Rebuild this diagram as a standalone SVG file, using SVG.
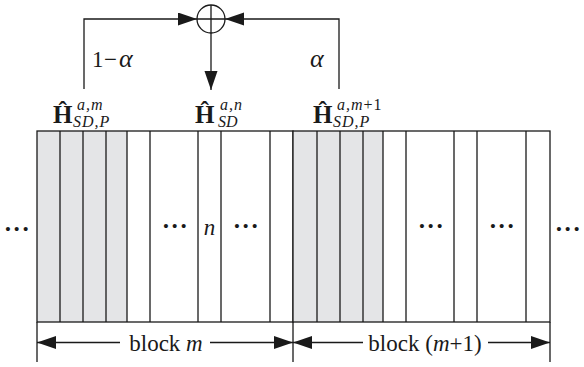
<svg xmlns="http://www.w3.org/2000/svg" width="584" height="367" viewBox="0 0 584 367">
<style>
.ln{stroke:#1a1a1a;stroke-width:1.3;fill:none}
.gr{fill:#e4e5e7;stroke:none}
.t{font-family:"Liberation Serif","Times New Roman",serif;fill:#1a1a1a}
.it{font-style:italic}
.H{font-weight:bold;font-size:25px}
.s{font-style:italic;font-size:16px}
.big{font-size:23px}
.dots{font-family:"Liberation Serif","Times New Roman",serif;fill:#1a1a1a;font-size:25px;font-weight:bold;letter-spacing:0.5px}
</style>
<defs>
<marker id="ah" markerUnits="userSpaceOnUse" markerWidth="20" markerHeight="14" refX="19" refY="6.5" orient="auto-start-reverse">
<path d="M0,0 L19,6.5 L0,13 Z" fill="#1a1a1a"/>
</marker>
</defs>
<rect width="584" height="367" fill="#fff"/>

<g id="connectors">
<path class="ln" d="M84 89 V19 H197" marker-end="url(#ah)"/>
<path class="ln" d="M339 89 V19 H225" marker-end="url(#ah)"/>
<path class="ln" d="M211 33 V90" marker-end="url(#ah)"/>
<path class="ln" d="M37 342.5 H120" marker-start="url(#ah)"/>
<path class="ln" d="M210 342.5 H293" marker-end="url(#ah)"/>
<path class="ln" d="M293 342.5 H363" marker-start="url(#ah)"/>
<path class="ln" d="M488 342.5 H550" marker-end="url(#ah)"/>
</g>

<g id="sum">
<circle class="ln" cx="211" cy="19" r="14"/>
<path class="ln" d="M197 19 H225 M211 5 V33"/>
</g>

<g id="weights">
<text class="t big" x="92" y="67">1</text>
<text class="t big" x="104" y="67">−</text>
<text class="t it" x="119" y="67" font-size="26">α</text>
<text class="t it" x="310" y="67" font-size="26">α</text>
</g>

<g id="label-m">
<text class="t H" x="53" y="122.5">Ĥ</text>
<text class="t s" x="77" y="110" letter-spacing="1">a,m</text>
<text class="t s" x="73" y="126.5" letter-spacing="1">SD,P</text>
</g>
<g id="label-n">
<text class="t H" x="195" y="122.5">Ĥ</text>
<text class="t s" x="220" y="110" letter-spacing="1">a,n</text>
<text class="t s" x="218" y="126.5">SD</text>
</g>
<g id="label-m1">
<text class="t H" x="313" y="122.5">Ĥ</text>
<text class="t s" x="337" y="110" letter-spacing="1">a,m<tspan font-style="normal">+1</tspan></text>
<text class="t s" x="333" y="126.5" letter-spacing="1">SD,P</text>
</g>

<g id="block-m">
<rect class="gr" x="37" y="131" width="90" height="191"/>
<rect class="ln" x="37" y="131" width="256" height="191"/>
<path class="ln" d="M60 131V322M83 131V322M106 131V322M127 131V322M150 131V322M198 131V322M221 131V322M270 131V322"/>
<text class="dots" x="175" y="234" text-anchor="middle">···</text>
<text class="t big it" x="209.5" y="235" text-anchor="middle">n</text>
<text class="dots" x="246" y="234" text-anchor="middle">···</text>
</g>

<g id="block-m1">
<rect class="gr" x="293" y="131" width="90" height="191"/>
<rect class="ln" x="293" y="131" width="257" height="191"/>
<path class="ln" d="M317 131V322M340 131V322M363 131V322M383 131V322M406 131V322M454 131V322M477 131V322M526 131V322"/>
<text class="dots" x="431" y="234" text-anchor="middle">···</text>
<text class="dots" x="502" y="234" text-anchor="middle">···</text>
</g>

<g id="outer-dots">
<text class="dots" x="17" y="237" text-anchor="middle">···</text>
<text class="dots" x="568" y="237" text-anchor="middle">···</text>
</g>

<g id="dimensions">
<path class="ln" d="M37 322V362M293 322V362M550 322V362"/>
<text class="t big" x="166" y="351" text-anchor="middle">block <tspan class="it">m</tspan></text>
<text class="t big" x="425" y="351" text-anchor="middle">block (<tspan class="it">m</tspan>+1)</text>
</g>
</svg>
